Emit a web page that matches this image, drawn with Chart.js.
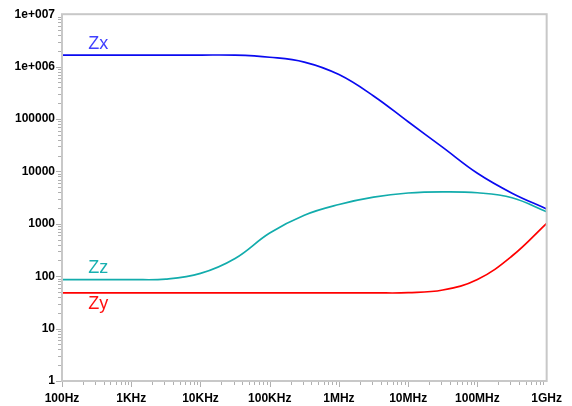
<!DOCTYPE html>
<html>
<head>
<meta charset="utf-8">
<script src="https://cdn.jsdelivr.net/npm/chart.js@4.4.1/dist/chart.umd.min.js"></script>
<style>
  html, body { margin: 0; padding: 0; background: #ffffff; }
  #wrap { width: 572px; height: 406px; }
</style>
</head>
<body>
<div id="wrap"><canvas id="c" width="572" height="406"></canvas></div>
<script>
// Impedance magnitude vs. frequency (ohms), sampled every half decade (Hz)
const freqs = [1e2, 3.16e2, 1e3, 3.16e3, 1e4, 3.16e4, 1e5, 3.16e5, 1e6, 3.16e6, 1e7, 3.16e7, 1e8, 3.16e8, 1e9];
const zx = [1.66e6, 1.66e6, 1.66e6, 1.66e6, 1.66e6, 1.65e6, 1.51e6, 1.22e6, 7.04e5, 2.75e5, 8.85e4, 2.87e4, 9200, 3840, 1920];
const zz = [86, 86, 86, 88, 113, 218, 667, 1460, 2335, 3220, 3870, 4080, 3910, 3135, 1700];
const zy = [48, 48, 48, 48, 48, 48, 48, 48, 48, 48, 48.4, 54.5, 86.5, 243, 1023];

const seriesNames = ['Zx', 'Zz', 'Zy'];
const xTickValues = [1e2, 1e3, 1e4, 1e5, 1e6, 1e7, 1e8, 1e9];
const xTickLabels = ['100Hz', '1KHz', '10KHz', '100KHz', '1MHz', '10MHz', '100MHz', '1GHz'];
const yTickValues = [1, 10, 100, 1000, 10000, 100000, 1e6, 1e7];
const yTickLabels = ['1', '10', '100', '1000', '10000', '100000', '1e+006', '1e+007'];

const lineColors = ['#0a0af0', '#12acac', '#ff0000'];
const labelColors = ['#4040ff', '#18b0b0', '#ff1010'];
const FRAME = '#c8c8c8';
const TICK = '#b0b0b0';

function pts(ys) { return freqs.map((f, i) => ({ x: f, y: ys[i] })); }

// Gray box around the plot plus major/minor log tick marks
const frameAndTicks = {
  id: 'frameAndTicks',
  afterDatasetsDraw(chart) {
    const { ctx, chartArea: a, scales } = chart;
    const xs = scales.x, ys = scales.y;
    ctx.save();
    ctx.strokeStyle = TICK;
    ctx.lineWidth = 1;
    ctx.beginPath();
    for (let e = 0; e < 7; e++) {
      for (let m = 1; m <= 9; m++) {
        const v = m * Math.pow(10, e);
        const len = m === 1 ? 6 : 4;
        const py = Math.round(ys.getPixelForValue(v)) + 0.5;
        ctx.moveTo(a.left - len, py); ctx.lineTo(a.left, py);
        const vx = m * Math.pow(10, e + 2);
        const px = Math.round(xs.getPixelForValue(vx)) + 0.5;
        ctx.moveTo(px, a.bottom); ctx.lineTo(px, a.bottom + len);
      }
    }
    ctx.stroke();
    ctx.strokeStyle = FRAME;
    ctx.lineWidth = 2;
    ctx.strokeRect(a.left, a.top, a.right - a.left, a.bottom - a.top);
    ctx.restore();
  }
};

// Series names written next to each curve
const seriesLabels = {
  id: 'seriesLabels',
  afterDraw(chart) {
    const { ctx, scales } = chart;
    const xs = scales.x, ys = scales.y;
    const lx = xs.getPixelForValue(240);
    const offsets = [-6, -7, 16];
    const starts = [zx[0], zz[0], zy[0]];
    ctx.save();
    ctx.font = '18px "Liberation Sans", Arial, sans-serif';
    ctx.textAlign = 'left';
    ctx.textBaseline = 'alphabetic';
    seriesNames.forEach((n, i) => {
      ctx.fillStyle = labelColors[i];
      ctx.fillText(n, lx, ys.getPixelForValue(starts[i]) + offsets[i]);
    });
    ctx.restore();
  }
};

const tickFont = { family: '"Liberation Sans", Arial, sans-serif', size: 12, weight: 'bold' };

new Chart(document.getElementById('c'), {
  type: 'line',
  data: {
    datasets: [zx, zz, zy].map((d, i) => ({
      label: seriesNames[i],
      data: pts(d),
      borderColor: lineColors[i],
      backgroundColor: lineColors[i],
      borderWidth: 1.7,
      pointRadius: 0,
      tension: 0.4,
      fill: false
    }))
  },
  options: {
    responsive: false,
    devicePixelRatio: 1,
    animation: false,
    layout: { padding: { top: 14, right: 24, left: 0, bottom: 0 } },
    plugins: { legend: { display: false }, tooltip: { enabled: false } },
    scales: {
      x: {
        type: 'logarithmic',
        min: 1e2, max: 1e9,
        grid: { display: false, drawTicks: false },
        border: { display: false },
        afterBuildTicks(s) { s.ticks = xTickValues.map(v => ({ value: v })); },
        afterFit(s) { s.height = 25; },
        ticks: {
          autoSkip: false, maxRotation: 0, padding: 10,
          color: '#000', font: tickFont,
          callback(v, i) { return xTickLabels[i]; }
        }
      },
      y: {
        type: 'logarithmic',
        min: 1, max: 1e7,
        grid: { display: false, drawTicks: false },
        border: { display: false },
        afterBuildTicks(s) { s.ticks = yTickValues.map(v => ({ value: v })); },
        afterFit(s) { s.width = 62; },
        ticks: {
          autoSkip: false, padding: 7,
          color: '#000', font: tickFont,
          callback(v, i) { return yTickLabels[i]; }
        }
      }
    }
  },
  plugins: [frameAndTicks, seriesLabels]
});
</script>
</body>
</html>
